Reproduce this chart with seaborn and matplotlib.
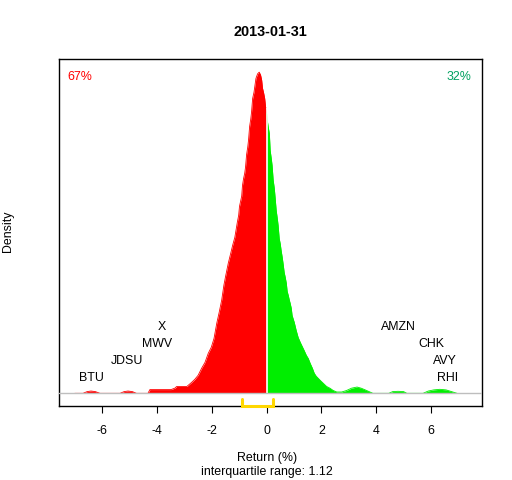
import numpy as np
import matplotlib
matplotlib.use("Agg")
import matplotlib.pyplot as plt
import seaborn as sns

# density (return %, density)
left_x = [-7.0, -6.7, -6.55, -6.41, -6.25, -6.08, -5.35, -5.2, -5.06, -4.9, -4.75,
          -4.33, -4.26, -3.49, -3.35, -3.28, -2.91, -2.74, -2.62, -2.50, -2.37,
          -2.25, -2.13, -2.02, -1.92, -1.82, -1.73, -1.64, -1.56, -1.49, -1.40,
          -1.31, -1.24, -1.16, -1.07, -1.02, -0.99, -0.95, -0.91, -0.88, -0.84,
          -0.80, -0.77, -0.73, -0.69, -0.66, -0.62, -0.58, -0.55, -0.51, -0.46,
          -0.39, -0.33, -0.27, -0.22, -0.18, -0.15, -0.11, -0.07, -0.04, 0.0]
left_d = [0.0, 0.0, 0.003, 0.004, 0.003, 0.0, 0.0, 0.003, 0.004, 0.003, 0.0,
          0.0, 0.0065, 0.0065, 0.009, 0.012, 0.012, 0.019, 0.0245, 0.0315, 0.044,
          0.054, 0.070, 0.0805, 0.096, 0.1225, 0.142, 0.163, 0.189, 0.2065, 0.2275,
          0.245, 0.259, 0.273, 0.299, 0.3115, 0.327, 0.336, 0.345, 0.364, 0.376,
          0.385, 0.3955, 0.418, 0.4305, 0.443, 0.467, 0.4795, 0.492, 0.516, 0.527,
          0.551, 0.559, 0.562, 0.557, 0.548, 0.534, 0.526, 0.516, 0.502, 0.49]

right_x = [0.0, 0.02, 0.06, 0.10, 0.13, 0.17, 0.20, 0.24, 0.28, 0.31, 0.35, 0.39,
           0.42, 0.46, 0.50, 0.53, 0.57, 0.61, 0.64, 0.68, 0.72, 0.75, 0.79, 0.83,
           0.86, 0.90, 0.93, 1.01, 1.08, 1.15, 1.23, 1.30, 1.37, 1.45, 1.52, 1.59,
           1.67, 1.74, 1.81, 1.89, 1.96, 2.07, 2.19, 2.31, 2.43, 2.56, 2.74, 2.92,
           3.10, 3.30, 3.45, 3.6, 3.88, 4.46, 4.6, 4.8, 5.0, 5.12, 5.71, 5.9,
           6.1, 6.32, 6.55, 6.75, 6.95]
right_d = [0.49, 0.4795, 0.4655, 0.455, 0.425, 0.411, 0.399, 0.373, 0.359, 0.343,
           0.320, 0.306, 0.294, 0.271, 0.261, 0.250, 0.238, 0.224, 0.212, 0.203,
           0.1925, 0.1785, 0.1715, 0.163, 0.1575, 0.149, 0.1365, 0.124, 0.110, 0.098,
           0.089, 0.082, 0.075, 0.0665, 0.061, 0.0525, 0.044, 0.035, 0.030, 0.026,
           0.0225, 0.0175, 0.012, 0.009, 0.005, 0.0023, 0.0023, 0.005, 0.009, 0.011,
           0.009, 0.006, 0.0, 0.0, 0.003, 0.0035, 0.003, 0.0, 0.0, 0.004,
           0.006, 0.007, 0.006, 0.003, 0.0]

# outlier tickers: return and stacking level
left_names = ["BTU", "JDSU", "MWV", "X"]
left_rets = [-6.38, -5.09, -4.0, -3.82]
right_names = ["AMZN", "CHK", "AVY", "RHI"]
right_rets = [4.8, 6.0, 6.5, 6.6]
label_levels = [0.026, 0.056, 0.0856, 0.1155]
right_levels = [0.1155, 0.0856, 0.056, 0.026]

q1, q3 = -0.88, 0.24
iqr = 1.12
pct_down, pct_up = "67%", "32%"

sns.set_style("white")
plt.rcParams["font.family"] = ["Liberation Sans", "DejaVu Sans"]
plt.rcParams["text.color"] = "black"
plt.rcParams["xtick.color"] = "black"
plt.rcParams["xtick.labelcolor"] = "black"

fs = 8.9

fig = plt.figure(figsize=(5.12, 4.8), dpi=100)
ax = fig.add_axes([59.3 / 512, 74 / 480, 422.4 / 512, 346.7 / 480])

red, green = "#FF0000", "#00EE00"
sns.lineplot(x=left_x, y=left_d, color=red, lw=0.6, ax=ax, sort=False)
sns.lineplot(x=right_x, y=right_d, color=green, lw=0.6, ax=ax, sort=False)
ax.fill_between(left_x, 0, left_d, color=red, lw=0)
ax.fill_between(right_x, 0, right_d, color=green, lw=0)
ax.vlines(0, 0, 0.5, color="white", lw=1.2, zorder=3)
ax.axhline(0, color="#BEBEBE", lw=1, zorder=3)

ax.set_xlim(-7.566, 7.850)
ax.set_ylim(-0.0222, 0.5845)

for n, r, lv in zip(left_names, left_rets, label_levels):
    ax.text(r, lv, n, ha="center", va="center", fontsize=fs, color="black")
for n, r, lv in zip(right_names, right_rets, right_levels):
    ax.text(r, lv, n, ha="center", va="center", fontsize=fs, color="black")

ax.text(0.018, 0.948, pct_down, transform=ax.transAxes, color="red",
        ha="left", va="center", fontsize=fs)
ax.text(0.976, 0.948, pct_up, transform=ax.transAxes, color="#00A060",
        ha="right", va="center", fontsize=fs)

# interquartile bracket
ax.plot([q1, q1, q3, q3], [-0.0100, -0.0222, -0.0222, -0.0100], color="#FFD700",
        lw=2.2, clip_on=False, zorder=5, solid_joinstyle="miter")

ax.set_xticks([-6, -4, -2, 0, 2, 4, 6])
ax.set_xticklabels(["-6", "-4", "-2", "0", "2", "4", "6"])
ax.set_yticks([])
ax.tick_params(axis="x", bottom=True, length=5.2, width=0.8, color="black",
               labelcolor="black", labelsize=fs, pad=8.3)
for s in ax.spines.values():
    s.set_color("black")
    s.set_linewidth(1.0)
ax.set_xlabel("")
ax.set_ylabel("")

fig.text(270.5 / 512, 1 - 31.7 / 480, "2013-01-31", ha="center", va="center",
         fontsize=10.4, fontweight="bold", color="black")
fig.text(8 / 512, 1 - 231.7 / 480, "Density", rotation=90, ha="center",
         va="center", fontsize=fs, color="black")
fig.text(266.6 / 512, 1 - 457.7 / 480, "Return (%)", ha="center", va="center",
         fontsize=fs, color="black")
fig.text(266.6 / 512, 1 - 471.7 / 480, "interquartile range: %.2f" % iqr,
         ha="center", va="center", fontsize=fs, color="black")

fig.savefig("out.png", dpi=100)
